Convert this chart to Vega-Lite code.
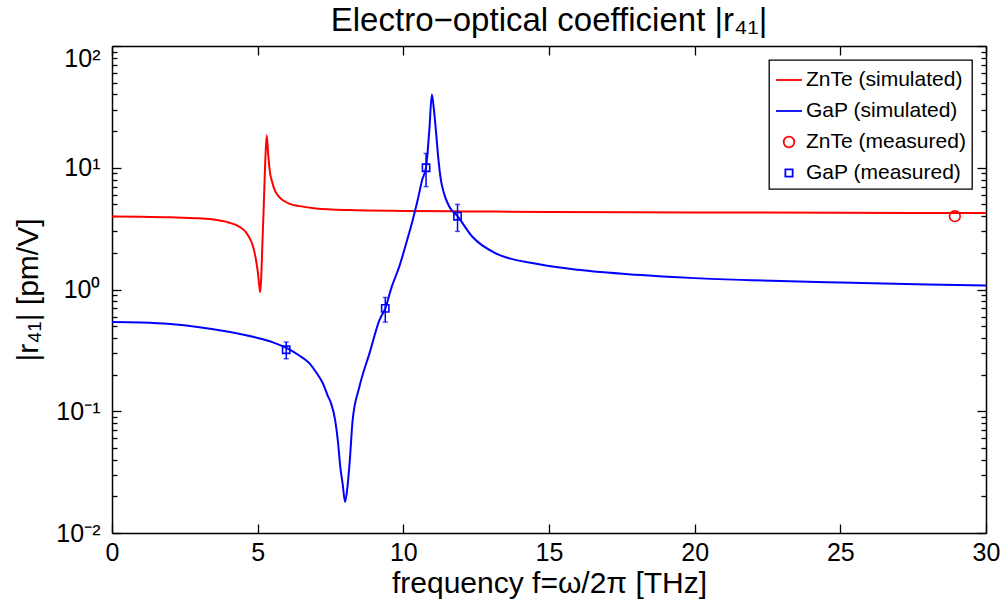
{
  "$schema": "https://vega.github.io/schema/vega-lite/v6.json",
  "autosize": {"type": "none"},
  "width": 874,
  "height": 487,
  "padding": {"left": 112, "top": 46, "right": 19, "bottom": 66},
  "background": "white",
  "title": {"text": "Electro−optical coefficient |r₄₁|", "fontSize": 33, "font": "Liberation Sans", "fontWeight": "normal", "color": "black", "anchor": "middle", "offset": 7},
  "config": {
    "view": {"stroke": null},
    "font": "Liberation Sans",
    "axis": {"labelFont": "Liberation Sans", "titleFont": "Liberation Sans", "labelColor": "black", "titleColor": "black", "titleFontWeight": "normal", "domainColor": "black", "tickColor": "black", "domainWidth": 1.5, "tickWidth": 1.3, "grid": false, "labelFontSize": 25, "titleFontSize": 30, "labelOverlap": false, "labelFlush": false},
    "legend": {"orient": "top-right", "offset": 14, "strokeColor": "black", "strokeWidth": 1.3, "fillColor": "white", "padding": 6, "labelFont": "Liberation Sans", "labelFontSize": 21, "labelColor": "black", "symbolSize": 676, "symbolStrokeWidth": 1.8, "rowPadding": 7, "labelOffset": 3, "labelLimit": 0, "cornerRadius": 0}
  },
  "datasets": {
    "curves": [
      {"f": 0, "r": 3.98, "series": "ZnTe (simulated)"},
      {"f": 1, "r": 3.96, "series": "ZnTe (simulated)"},
      {"f": 2, "r": 3.92, "series": "ZnTe (simulated)"},
      {"f": 3, "r": 3.84, "series": "ZnTe (simulated)"},
      {"f": 3.5, "r": 3.75, "series": "ZnTe (simulated)"},
      {"f": 4.0, "r": 3.55, "series": "ZnTe (simulated)"},
      {"f": 4.38, "r": 3.27, "series": "ZnTe (simulated)"},
      {"f": 4.6, "r": 2.95, "series": "ZnTe (simulated)"},
      {"f": 4.73, "r": 2.63, "series": "ZnTe (simulated)"},
      {"f": 4.83, "r": 2.3, "series": "ZnTe (simulated)"},
      {"f": 4.9, "r": 1.98, "series": "ZnTe (simulated)"},
      {"f": 4.96, "r": 1.65, "series": "ZnTe (simulated)"},
      {"f": 5.01, "r": 1.36, "series": "ZnTe (simulated)"},
      {"f": 5.05, "r": 1.1, "series": "ZnTe (simulated)"},
      {"f": 5.09, "r": 0.95, "series": "ZnTe (simulated)"},
      {"f": 5.13, "r": 1.4, "series": "ZnTe (simulated)"},
      {"f": 5.16, "r": 2.3, "series": "ZnTe (simulated)"},
      {"f": 5.2, "r": 4.2, "series": "ZnTe (simulated)"},
      {"f": 5.25, "r": 9.6, "series": "ZnTe (simulated)"},
      {"f": 5.31, "r": 18.5, "series": "ZnTe (simulated)"},
      {"f": 5.36, "r": 13, "series": "ZnTe (simulated)"},
      {"f": 5.41, "r": 9.6, "series": "ZnTe (simulated)"},
      {"f": 5.5, "r": 7.6, "series": "ZnTe (simulated)"},
      {"f": 5.58, "r": 6.6, "series": "ZnTe (simulated)"},
      {"f": 5.7, "r": 5.9, "series": "ZnTe (simulated)"},
      {"f": 5.87, "r": 5.4, "series": "ZnTe (simulated)"},
      {"f": 6.1, "r": 5.05, "series": "ZnTe (simulated)"},
      {"f": 6.44, "r": 4.84, "series": "ZnTe (simulated)"},
      {"f": 7.0, "r": 4.63, "series": "ZnTe (simulated)"},
      {"f": 8.15, "r": 4.49, "series": "ZnTe (simulated)"},
      {"f": 10, "r": 4.42, "series": "ZnTe (simulated)"},
      {"f": 12, "r": 4.38, "series": "ZnTe (simulated)"},
      {"f": 15, "r": 4.34, "series": "ZnTe (simulated)"},
      {"f": 20, "r": 4.3, "series": "ZnTe (simulated)"},
      {"f": 25, "r": 4.27, "series": "ZnTe (simulated)"},
      {"f": 30, "r": 4.25, "series": "ZnTe (simulated)"},
      {"f": 0, "r": 0.54, "series": "GaP (simulated)"},
      {"f": 1, "r": 0.535, "series": "GaP (simulated)"},
      {"f": 2, "r": 0.52, "series": "GaP (simulated)"},
      {"f": 3, "r": 0.49, "series": "GaP (simulated)"},
      {"f": 4, "r": 0.45, "series": "GaP (simulated)"},
      {"f": 5, "r": 0.4, "series": "GaP (simulated)"},
      {"f": 5.5, "r": 0.37, "series": "GaP (simulated)"},
      {"f": 6.0, "r": 0.33, "series": "GaP (simulated)"},
      {"f": 6.4, "r": 0.29, "series": "GaP (simulated)"},
      {"f": 6.78, "r": 0.247, "series": "GaP (simulated)"},
      {"f": 7.0, "r": 0.21, "series": "GaP (simulated)"},
      {"f": 7.24, "r": 0.169, "series": "GaP (simulated)"},
      {"f": 7.4, "r": 0.135, "series": "GaP (simulated)"},
      {"f": 7.52, "r": 0.116, "series": "GaP (simulated)"},
      {"f": 7.66, "r": 0.0845, "series": "GaP (simulated)"},
      {"f": 7.76, "r": 0.055, "series": "GaP (simulated)"},
      {"f": 7.83, "r": 0.036, "series": "GaP (simulated)"},
      {"f": 7.92, "r": 0.025, "series": "GaP (simulated)"},
      {"f": 8.0, "r": 0.018, "series": "GaP (simulated)"},
      {"f": 8.09, "r": 0.025, "series": "GaP (simulated)"},
      {"f": 8.15, "r": 0.036, "series": "GaP (simulated)"},
      {"f": 8.26, "r": 0.0845, "series": "GaP (simulated)"},
      {"f": 8.49, "r": 0.158, "series": "GaP (simulated)"},
      {"f": 8.84, "r": 0.3, "series": "GaP (simulated)"},
      {"f": 9.18, "r": 0.56, "series": "GaP (simulated)"},
      {"f": 9.38, "r": 0.7, "series": "GaP (simulated)"},
      {"f": 9.6, "r": 1.05, "series": "GaP (simulated)"},
      {"f": 9.86, "r": 1.54, "series": "GaP (simulated)"},
      {"f": 10.1, "r": 2.4, "series": "GaP (simulated)"},
      {"f": 10.32, "r": 3.7, "series": "GaP (simulated)"},
      {"f": 10.49, "r": 5.4, "series": "GaP (simulated)"},
      {"f": 10.65, "r": 8, "series": "GaP (simulated)"},
      {"f": 10.78, "r": 10.1, "series": "GaP (simulated)"},
      {"f": 10.89, "r": 20, "series": "GaP (simulated)"},
      {"f": 10.98, "r": 40, "series": "GaP (simulated)"},
      {"f": 11.05, "r": 30, "series": "GaP (simulated)"},
      {"f": 11.12, "r": 20, "series": "GaP (simulated)"},
      {"f": 11.2, "r": 12, "series": "GaP (simulated)"},
      {"f": 11.29, "r": 7.9, "series": "GaP (simulated)"},
      {"f": 11.4, "r": 6.1, "series": "GaP (simulated)"},
      {"f": 11.58, "r": 4.79, "series": "GaP (simulated)"},
      {"f": 11.86, "r": 4.0, "series": "GaP (simulated)"},
      {"f": 12.37, "r": 2.71, "series": "GaP (simulated)"},
      {"f": 13.17, "r": 1.98, "series": "GaP (simulated)"},
      {"f": 14.66, "r": 1.61, "series": "GaP (simulated)"},
      {"f": 16, "r": 1.45, "series": "GaP (simulated)"},
      {"f": 18, "r": 1.32, "series": "GaP (simulated)"},
      {"f": 20, "r": 1.24, "series": "GaP (simulated)"},
      {"f": 22, "r": 1.19, "series": "GaP (simulated)"},
      {"f": 25, "r": 1.14, "series": "GaP (simulated)"},
      {"f": 28, "r": 1.1, "series": "GaP (simulated)"},
      {"f": 30, "r": 1.08, "series": "GaP (simulated)"}
    ],
    "meas": [
      {"f": 28.93, "r": 4.0, "series": "ZnTe (measured)"},
      {"f": 5.98, "r": 0.32, "lo": 0.27, "hi": 0.37, "series": "GaP (measured)"},
      {"f": 9.38, "r": 0.7, "lo": 0.54, "hi": 0.86, "series": "GaP (measured)"},
      {"f": 10.78, "r": 10, "lo": 7.0, "hi": 13.1, "series": "GaP (measured)"},
      {"f": 11.86, "r": 4.0, "lo": 3.0, "hi": 5.0, "series": "GaP (measured)"}
    ]
  },
  "layer": [
    {
      "data": {"name": "curves"},
      "mark": {"type": "line", "strokeWidth": 2, "clip": true, "interpolate": "monotone"},
      "encoding": {
        "x": {"field": "f", "type": "quantitative", "scale": {"domain": [0, 30], "nice": false, "zero": false},
          "axis": {"orient": "bottom", "values": [0, 5, 10, 15, 20, 25, 30], "tickSize": -9, "labelPadding": 16, "title": "frequency f=ω/2π [THz]", "titlePadding": 3, "titleFontSize": 30}},
        "y": {"field": "r", "type": "quantitative", "scale": {"type": "log", "domain": [0.01, 100], "nice": false},
          "axis": {"orient": "left", "values": [0.01, 0.1, 1, 10, 100], "tickSize": -9, "labelPadding": 21, "title": "|r₄₁| [pm/V]", "titlePadding": 12, "titleFontSize": 30,
            "labelBaseline": {"condition": {"test": "datum.value == 100", "value": "top"}, "value": "middle"},
            "labelExpr": "datum.value == 100 ? '10²' : datum.value == 10 ? '10¹' : datum.value == 1 ? '10⁰' : datum.value == 0.1 ? '10⁻¹' : datum.value == 0.01 ? '10⁻²' : ''"}},
        "color": {"field": "series", "type": "nominal", "sort": null,
          "scale": {"domain": ["ZnTe (simulated)", "GaP (simulated)", "ZnTe (measured)", "GaP (measured)"], "range": ["#ff0000", "#0000ff", "#ff0000", "#0000ff"]},
          "legend": {"title": null}}
      }
    },
    {
      "data": {"name": "meas"},
      "transform": [{"filter": "datum.series == 'GaP (measured)'"}],
      "mark": {"type": "rule", "strokeWidth": 1.5, "color": "#0000ff"},
      "encoding": {
        "x": {"field": "f", "type": "quantitative", "scale": {"domain": [0, 30], "nice": false, "zero": false},
          "axis": {"orient": "top", "values": [0, 5, 10, 15, 20, 25, 30], "tickSize": -9, "labels": false, "title": null}},
        "y": {"field": "lo", "type": "quantitative", "scale": {"type": "log", "domain": [0.01, 100], "nice": false},
          "axis": {"orient": "left", "values": [0.02, 0.03, 0.04, 0.05, 0.06, 0.07, 0.08, 0.09, 0.2, 0.3, 0.4, 0.5, 0.6, 0.7, 0.8, 0.9, 2, 3, 4, 5, 6, 7, 8, 9, 20, 30, 40, 50, 60, 70, 80, 90], "tickSize": -5, "labels": false, "domain": false, "title": null}},
        "y2": {"field": "hi"}
      }
    },
    {
      "data": {"name": "meas"},
      "transform": [{"filter": "datum.series == 'GaP (measured)'"}],
      "mark": {"type": "tick", "orient": "horizontal", "size": 5, "thickness": 1.5, "color": "#0000ff"},
      "encoding": {
        "x": {"field": "f", "type": "quantitative", "scale": {"domain": [0, 30], "nice": false, "zero": false}, "axis": null},
        "y": {"field": "lo", "type": "quantitative", "scale": {"type": "log", "domain": [0.01, 100], "nice": false},
          "axis": {"orient": "right", "values": [0.01, 0.1, 1, 10, 100], "tickSize": -9, "labels": false, "title": null}}
      }
    },
    {
      "data": {"name": "meas"},
      "transform": [{"filter": "datum.series == 'GaP (measured)'"}],
      "mark": {"type": "tick", "orient": "horizontal", "size": 5, "thickness": 1.5, "color": "#0000ff"},
      "encoding": {
        "x": {"field": "f", "type": "quantitative", "scale": {"domain": [0, 30], "nice": false, "zero": false}, "axis": null},
        "y": {"field": "hi", "type": "quantitative", "scale": {"type": "log", "domain": [0.01, 100], "nice": false},
          "axis": {"orient": "right", "values": [0.02, 0.03, 0.04, 0.05, 0.06, 0.07, 0.08, 0.09, 0.2, 0.3, 0.4, 0.5, 0.6, 0.7, 0.8, 0.9, 2, 3, 4, 5, 6, 7, 8, 9, 20, 30, 40, 50, 60, 70, 80, 90], "tickSize": -5, "labels": false, "domain": false, "title": null}}
      }
    },
    {
      "data": {"name": "meas"},
      "mark": {"type": "point", "filled": false, "strokeWidth": 1.6, "size": 676, "opacity": 1},
      "encoding": {
        "x": {"field": "f", "type": "quantitative", "scale": {"domain": [0, 30], "nice": false, "zero": false}, "axis": null},
        "y": {"field": "r", "type": "quantitative", "scale": {"type": "log", "domain": [0.01, 100], "nice": false}, "axis": null},
        "color": {"field": "series", "type": "nominal", "sort": null,
          "scale": {"domain": ["ZnTe (simulated)", "GaP (simulated)", "ZnTe (measured)", "GaP (measured)"], "range": ["#ff0000", "#0000ff", "#ff0000", "#0000ff"]},
          "legend": {"title": null}},
        "shape": {"field": "series", "type": "nominal", "sort": null,
          "scale": {"domain": ["ZnTe (simulated)", "GaP (simulated)", "ZnTe (measured)", "GaP (measured)"], "range": ["M-1,0L1,0", "M-1,0L1,0", "M0.41,0A0.41,0.41,0,1,1,-0.41,0A0.41,0.41,0,1,1,0.41,0Z", "M-0.28,-0.28L0.28,-0.28L0.28,0.28L-0.28,0.28Z"]},
          "legend": {"title": null}}
      }
    }
  ],
  "resolve": {"axis": {"x": "independent", "y": "independent"}}
}
